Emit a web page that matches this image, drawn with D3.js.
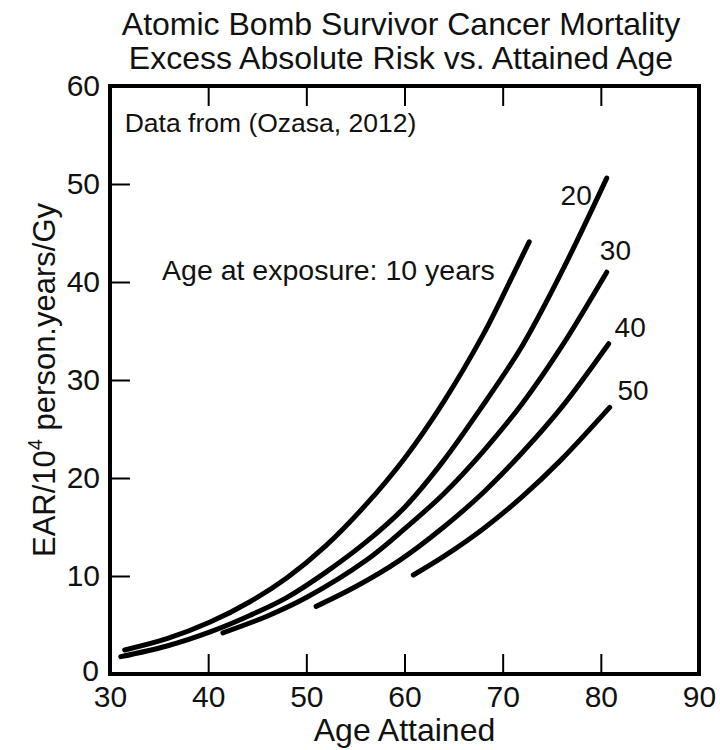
<!DOCTYPE html>
<html>
<head>
<meta charset="utf-8">
<script src="https://cdn.jsdelivr.net/npm/d3@7"></script>
<style>
  body { margin: 0; background: #fff; }
  svg { display: block; }
  text { font-family: "Liberation Sans", Arial, sans-serif; fill: #111; }
  .curve { fill: none; stroke: #000; stroke-width: 5; stroke-linecap: round; stroke-linejoin: round; }
</style>
</head>
<body>
<svg id="chart" width="720" height="750"></svg>
<script>
// age at exposure groups and their EAR curves
var exposureAges = [10, 20, 30, 40, 50];

var age10 = [31.5, 35.8, 40.2, 44.3, 48.0, 52.0, 56.0, 60.0, 64.0, 68.0, 71.0, 72.7];
var ear10 = [2.45, 3.6, 5.3, 7.4, 9.8, 13.1, 17.2, 22.0, 27.8, 34.6, 40.6, 44.1];

var age20 = [31.1, 35.8, 40.2, 44.3, 48.0, 52.0, 56.0, 60.0, 64.0, 67.7, 72.0, 76.0, 80.6];
var ear20 = [1.77, 2.86, 4.3, 6.0, 7.8, 10.4, 13.4, 17.0, 21.8, 27.0, 33.5, 41.0, 50.6];

var age30 = [41.5, 46.0, 50.0, 56.1, 60.0, 64.0, 68.0, 72.0, 76.0, 80.6];
var ear30 = [4.2, 5.9, 7.8, 11.6, 14.8, 18.4, 22.7, 27.6, 33.4, 41.0];

var age40 = [51.0, 55.0, 59.5, 64.0, 68.0, 72.0, 76.0, 80.8];
var ear40 = [6.9, 8.9, 11.6, 15.0, 18.5, 22.6, 27.2, 33.7];

var age50 = [60.9, 64.0, 68.0, 72.0, 76.0, 80.9];
var ear50 = [10.1, 12.0, 14.8, 18.1, 21.9, 27.2];

var curveAges = [age10, age20, age30, age40, age50];
var curveEars = [ear10, ear20, ear30, ear40, ear50];

var xTicks = [30, 40, 50, 60, 70, 80, 90];
var yTicks = [0, 10, 20, 30, 40, 50, 60];

var titleLines = ["Atomic Bomb Survivor Cancer Mortality",
                  "Excess Absolute Risk vs. Attained Age"];

var svg = d3.select("#chart");

var x = d3.scaleLinear().domain([30, 90]).range([110, 699]);
var y = d3.scaleLinear().domain([0, 60]).range([674, 86]);

/**
 * Axes (ticks point inward, no ticks on the right)
 */
var bottomAxis = svg.append("g")
    .attr("transform", "translate(0," + y(0) + ")")
    .call(d3.axisBottom(x).tickValues(xTicks).tickSizeInner(-20).tickSizeOuter(0).tickPadding(12));

var topAxis = svg.append("g")
    .attr("transform", "translate(0," + y(60) + ")")
    .call(d3.axisTop(x).tickValues(xTicks.slice(1, -1)).tickSizeInner(-20).tickSizeOuter(0).tickFormat(""));

var leftAxis = svg.append("g")
    .attr("transform", "translate(" + x(30) + ",0)")
    .call(d3.axisLeft(y).tickValues(yTicks).tickSizeInner(-20).tickSizeOuter(0).tickPadding(10));

[bottomAxis, topAxis, leftAxis].forEach(function(g){
    g.select(".domain").remove();
    g.selectAll("line").attr("stroke", "#000").attr("stroke-width", 2);
    g.selectAll("text")
        .style("font-family", "'Liberation Sans', Arial, sans-serif")
        .style("font-size", "30px")
        .attr("fill", "#111");
});

// ends of the axes carry no tick marks
bottomAxis.selectAll(".tick").filter(function(d){ return d == 30 || d == 90; }).select("line").remove();
leftAxis.selectAll(".tick").filter(function(d){ return d == 0 || d == 60; }).select("line").remove();
// the "0" sits up-left of the "30"
leftAxis.selectAll(".tick").filter(function(d){ return d == 0; }).select("text")
    .attr("x", -11).attr("dy", "0.22em");

// frame
svg.append("rect")
    .attr("x", x(30))
    .attr("y", y(60))
    .attr("width", x(90) - x(30))
    .attr("height", y(0) - y(60))
    .attr("fill", "none")
    .attr("stroke", "#000")
    .attr("stroke-width", 4);

/**
 * Curves
 */
var line = d3.line()
    .x(function(d){ return x(d[0]); })
    .y(function(d){ return y(d[1]); })
    .curve(d3.curveCatmullRom.alpha(0.5));

svg.selectAll(".curve")
    .data(exposureAges)
    .enter()
    .append("path")
    .attr("class", "curve")
    .attr("d", function(d, i) {
        return line(d3.zip(curveAges[i], curveEars[i]));
    });

/**
 * Text
 */
svg.selectAll(".title")
    .data(titleLines)
    .enter()
    .append("text")
    .attr("class", "title")
    .attr("x", 401)
    .attr("y", function(d, i){ return 35 + i * 34; })
    .attr("text-anchor", "middle")
    .style("font-size", "32px")
    .text(function(d){ return d; });

svg.append("text")
    .attr("x", (x(30) + x(90)) / 2)
    .attr("y", 741)
    .attr("text-anchor", "middle")
    .style("font-size", "32px")
    .text("Age Attained");

var yTitle = svg.append("text")
    .attr("transform", "translate(55," + ((y(0) + y(60)) / 2) + ") rotate(-90)")
    .attr("text-anchor", "middle")
    .style("font-size", "31px");
yTitle.append("tspan").text("EAR/10");
yTitle.append("tspan").attr("dy", -13).style("font-size", "20px").text("4");
yTitle.append("tspan").attr("dy", 13).text(" person.years/Gy");

svg.append("text")
    .attr("x", x(31.5))
    .attr("y", y(55.3))
    .style("font-size", "26.5px")
    .text("Data from (Ozasa, 2012)");

svg.append("text")
    .attr("x", x(35.3))
    .attr("y", y(40.2))
    .style("font-size", "28.5px")
    .text("Age at exposure: 10 years");

// group labels next to curve ends, in data units
var labelText = ["20", "30", "40", "50"];
var labelAge = [75.9, 79.9, 81.4, 81.7];
var labelEar = [47.9, 42.2, 34.4, 28.0];

svg.selectAll(".grp")
    .data(labelText)
    .enter()
    .append("text")
    .attr("class", "grp")
    .attr("x", function(d, i){ return x(labelAge[i]); })
    .attr("y", function(d, i){ return y(labelEar[i]); })
    .style("font-size", "28px")
    .text(function(d){ return d; });
</script>
</body>
</html>
